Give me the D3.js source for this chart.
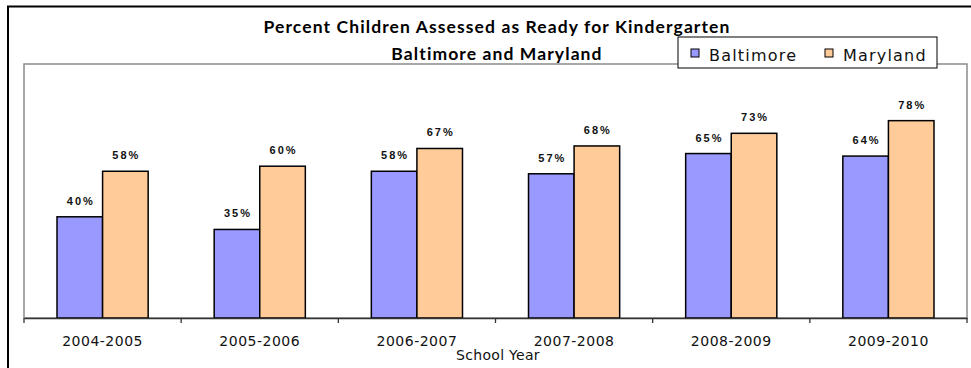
<!DOCTYPE html>
<html>
<head>
<meta charset="utf-8">
<script src="https://cdn.jsdelivr.net/npm/d3@7"></script>
<style>
  html, body { margin: 0; padding: 0; background: #fff; }
  svg { display: block; }
</style>
</head>
<body>
<svg id="chart" width="971" height="368"></svg>
<script>
const categories = ["2004-2005", "2005-2006", "2006-2007", "2007-2008", "2008-2009", "2009-2010"];
const seriesNames = ["Baltimore", "Maryland"];
const baltimore = [40, 35, 58, 57, 65, 64];
const maryland = [58, 60, 67, 68, 73, 78];
const seriesColors = ["#9999FF", "#FFCC99"];
const titleLines = ["Percent Children Assessed as Ready for Kindergarten", "Baltimore and Maryland"];
const xAxisTitle = "School Year";

const svg = d3.select("#chart");
const plot = { left: 24, right: 967, top: 65, bottom: 318 };

const x = d3.scaleBand().domain(categories).range([plot.left, plot.right]).padding(0);
const x1 = d3.scaleBand().domain(seriesNames)
  .range([x.bandwidth() * 0.21, x.bandwidth() * 0.79]).padding(0);
const y = d3.scaleLinear().domain([0, 100]).range([plot.bottom, plot.top]);
const color = d3.scaleOrdinal().domain(seriesNames).range(seriesColors);

// outer chart border
svg.append("rect").attr("x", 8).attr("y", 6.5).attr("width", 1000).attr("height", 400)
  .attr("fill", "#fff").attr("stroke", "#000").attr("stroke-width", 2);

// plot area border
svg.append("rect")
  .attr("x", plot.left).attr("y", y(100) - 1)
  .attr("width", plot.right - plot.left).attr("height", plot.bottom - y(100) + 1)
  .attr("fill", "#fff").attr("stroke", "#8c8c8c").attr("stroke-width", 1.5);

// bars
const data = categories.map((c, i) => ({ cat: c, values: [
  { s: "Baltimore", v: baltimore[i] }, { s: "Maryland", v: maryland[i] } ] }));

const groups = svg.append("g").selectAll("g").data(data).join("g")
  .attr("transform", d => `translate(${x(d.cat)},0)`);

groups.selectAll("rect").data(d => d.values).join("rect")
  .attr("x", d => x1(d.s)).attr("y", d => y(d.v))
  .attr("width", x1.bandwidth()).attr("height", d => y(0) - y(d.v))
  .attr("fill", d => color(d.s)).attr("stroke", "#000").attr("stroke-width", 1.5);

groups.selectAll("text").data(d => d.values).join("text")
  .attr("x", d => x1(d.s) + x1.bandwidth() / 2 + 1)
  .attr("y", d => y(d.v) - 12)
  .attr("text-anchor", "middle")
  .attr("font-family", "Liberation Sans, Arial, sans-serif")
  .attr("font-weight", "bold").attr("font-size", 11)
  .attr("letter-spacing", 2).attr("fill", "#111")
  .text(d => d.v + "%");

// x axis
const axisG = svg.append("g").attr("transform", `translate(0,${plot.bottom})`)
  .call(d3.axisBottom(x).tickSize(0).tickPadding(18));
axisG.select(".domain").attr("stroke", "#333").attr("stroke-width", 1.3);
axisG.selectAll(".tick text")
  .attr("font-family", "DejaVu Sans, sans-serif").attr("font-size", 14)
  .attr("letter-spacing", 0.5).attr("fill", "#111");
// boundary tick marks
const bounds = categories.map(c => x(c)).concat([x.range()[1]]);
axisG.selectAll("line.bound").data(bounds).join("line").attr("class", "bound")
  .attr("x1", d => d).attr("x2", d => d).attr("y1", 0).attr("y2", 5)
  .attr("stroke", "#333").attr("stroke-width", 1.3);

svg.append("text").attr("x", 498).attr("y", 360).attr("text-anchor", "middle")
  .attr("font-family", "DejaVu Sans, sans-serif").attr("font-size", 14)
  .attr("letter-spacing", 0.3).attr("fill", "#111").text(xAxisTitle);

// titles
svg.selectAll("text.title").data(titleLines).join("text").attr("class", "title")
  .attr("x", 497).attr("y", (d, i) => 33 + i * 27)
  .attr("text-anchor", "middle")
  .attr("font-family", "Lato, sans-serif").attr("font-weight", "bold")
  .attr("font-size", 17.5).attr("letter-spacing", 1.1)
  .attr("fill", "#000").text(d => d);

// legend
const lg = svg.append("g");
lg.append("rect").attr("x", 678).attr("y", 37).attr("width", 259).attr("height", 31)
  .attr("fill", "#fff").attr("stroke", "#000").attr("stroke-width", 1);
const legendX = [691, 825];
const items = lg.selectAll("g").data(seriesNames).join("g")
  .attr("transform", (d, i) => `translate(${legendX[i]},0)`);
items.append("rect").attr("x", 0).attr("y", 49).attr("width", 8).attr("height", 8)
  .attr("fill", d => color(d)).attr("stroke", "#000").attr("stroke-width", 1);
items.append("text").attr("x", 18).attr("y", 61)
  .attr("font-family", "DejaVu Sans, sans-serif").attr("font-size", 16)
  .attr("letter-spacing", 1.2).attr("fill", "#111").text(d => d);
</script>
</body>
</html>
